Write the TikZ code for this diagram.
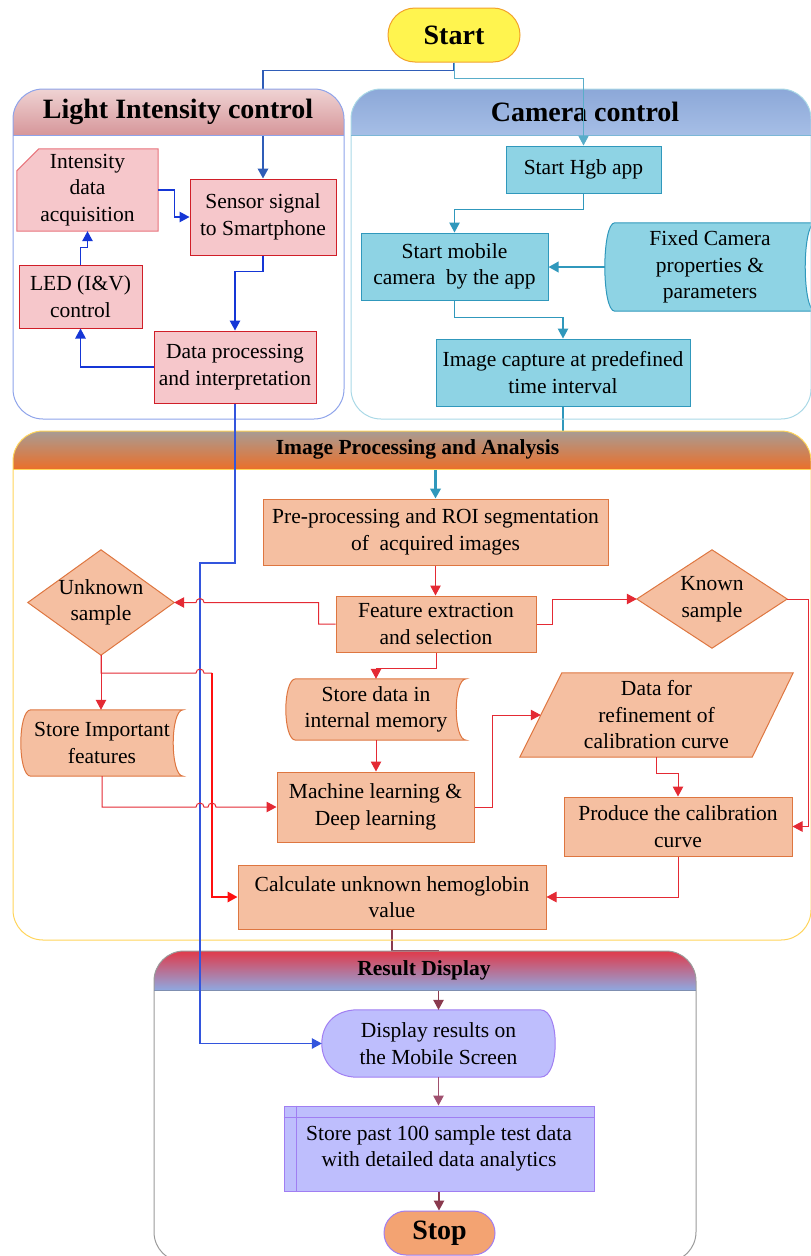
\documentclass[tikz,border=0pt]{standalone}
\usepackage{fontspec}
\setmainfont{Liberation Serif}
\usetikzlibrary{arrows.meta,backgrounds,calc}
\definecolor{pinkfill}{HTML}{F6C7CB}
\definecolor{pinkline}{HTML}{E8737C}
\definecolor{redline}{HTML}{D01E28}
\definecolor{tealfill}{HTML}{8ED3E4}
\definecolor{tealline}{HTML}{3098BC}
\definecolor{orfill}{HTML}{F5BFA1}
\definecolor{orline}{HTML}{DE7640}
\definecolor{lavfill}{HTML}{BEBEFD}
\definecolor{lavline}{HTML}{A07EF2}
\definecolor{stopfill}{HTML}{F3A372}
\definecolor{startfill}{HTML}{FFF44F}
\definecolor{startline}{HTML}{F2A22A}
\definecolor{bluearrow}{HTML}{1536D6}
\definecolor{darkblue}{HTML}{2F5DB8}
\definecolor{midblue}{HTML}{3355DD}
\definecolor{arrred}{HTML}{E42A34}
\definecolor{brightred}{HTML}{FF1010}
\definecolor{maroon}{HTML}{8A3A4E}
\definecolor{rose}{HTML}{A0506E}
\definecolor{lightborder}{HTML}{8EA3EA}
\definecolor{camborder}{HTML}{A9D8E6}
\definecolor{camline}{HTML}{7BB7D6}
\definecolor{ipborder}{HTML}{FFD45A}
\definecolor{rdborder}{HTML}{9A9A9A}
\definecolor{rdline}{HTML}{7F8FB0}
\definecolor{lhtop}{HTML}{EFD3D3}
\definecolor{lhbot}{HTML}{D6969A}
\definecolor{chtop}{HTML}{8CA8D8}
\definecolor{chbot}{HTML}{A6BEE6}
\definecolor{iptop}{HTML}{A89C94}
\definecolor{ipbot}{HTML}{EA6F2A}
\definecolor{rdtop}{HTML}{E03A4A}
\definecolor{rdbot}{HTML}{8FA8E0}
\begin{document}
\begin{tikzpicture}[x=1pt,y=-1pt,
  txt/.style={font=\fontsize{21.5}{26.5}\selectfont, align=center, inner sep=0pt, text=black},
  pbox/.style={txt, draw, fill=pinkfill, line width=1pt},
  tbox/.style={txt, draw=tealline, fill=tealfill, line width=1pt},
  obox/.style={txt, draw=orline, fill=orfill, line width=1pt},
  bgshape/.style={line width=1pt},
  arrowtip/.style={-{Triangle[length=10pt,width=10.5pt]}},
  bl/.style={draw=bluearrow, line width=1.2pt, arrowtip},
  tl/.style={draw=tealline, line width=1.2pt, arrowtip},
  rl/.style={draw=arrred, line width=1pt, arrowtip},
  mrl/.style={draw=maroon, line width=1.2pt, arrowtip},
  hfont/.style={font=\fontsize{28}{30}\selectfont\bfseries, inner sep=0pt},
  sfont/.style={font=\fontsize{21.5}{24}\selectfont\bfseries, inner sep=0pt}
]
\useasboundingbox (0,0) rectangle (811,1256);

% ---------- nodes ----------
\node[txt, draw=startline, fill=startfill, line width=1pt, rounded corners=27pt,
      minimum width=132pt, minimum height=54pt, font=\fontsize{28}{30}\selectfont\bfseries] (start) at (454,35) {Start};

\node[txt, minimum width=141pt, minimum height=82pt] (ida) at (87.5,190) {Intensity\\data\\acquisition};
\node[pbox, draw=redline, minimum width=146pt, minimum height=76pt] (sensor) at (263,217) {Sensor signal\\to Smartphone};
\node[pbox, draw=redline, minimum width=123pt, minimum height=63pt] (led) at (80.5,296.5) {LED (I\&V)\\control};
\node[pbox, draw=redline, minimum width=162pt, minimum height=72pt] (dproc) at (235,367) {Data processing\\and interpretation};

\node[tbox, minimum width=155pt, minimum height=47pt] (hgb) at (583.5,169.5) {Start Hgb app};
\node[tbox, minimum width=187pt, minimum height=67pt] (mobcam) at (454.5,266.5) {Start mobile\\camera~ by the app};
\node[txt, minimum width=210pt, minimum height=88pt] (fixcam) at (710,267) {Fixed Camera\\properties \&\\parameters};
\node[tbox, minimum width=254pt, minimum height=67pt] (imgcap) at (563,372.5) {Image capture at predefined\\time interval};

\node[obox, minimum width=345pt, minimum height=66pt] (preproc) at (435.5,532) {Pre-processing and ROI segmentation\\of~ acquired images};
\node[obox, minimum width=200pt, minimum height=56pt] (feat) at (436,624) {Feature extraction\\and selection};
\node[txt, minimum width=146pt, minimum height=105pt] (unk) at (101,602.5) {Unknown\\sample};
\node[txt, minimum width=150pt, minimum height=98pt] (known) at (712,599) {Known\\sample};
\node[txt, minimum width=162pt, minimum height=66pt] (stimp) at (102,743) {Store Important\\features};
\node[txt, minimum width=180pt, minimum height=61pt] (stdata) at (376,709.5) {Store data in\\internal memory};
\node[obox, minimum width=197pt, minimum height=70pt] (mlearn) at (375.5,807) {Machine learning \&\\Deep learning};
\node[txt, minimum width=273pt, minimum height=84pt] (dref) at (656.5,715) {Data for\\refinement of\\calibration curve};
\node[obox, minimum width=228pt, minimum height=59pt] (prod) at (678,826.5) {Produce the calibration\\curve};
\node[obox, minimum width=308pt, minimum height=64pt] (calc) at (392,897) {Calculate unknown hemoglobin\\value};

\node[txt, minimum width=233pt, minimum height=67pt] (disp) at (438.5,1043.5) {Display results on\\the Mobile Screen};
\node[txt, draw=lavline, fill=lavfill, line width=1pt, minimum width=310pt, minimum height=85pt] (stpast) at (439,1148.5) {Store past 100 sample test data\\with detailed data analytics};
\node[txt, draw=lavline, fill=stopfill, line width=1pt, rounded corners=22pt,
      minimum width=111pt, minimum height=44pt, font=\fontsize{28}{30}\selectfont\bfseries] (stop) at (439.5,1233) {Stop};

% ---------- custom shapes behind texts ----------
\begin{scope}[on background layer]
  \draw[bgshape, draw=pinkline, fill=pinkfill] ([xshift=22pt]ida.north west) -- (ida.north east) -- (ida.south east)
        -- (ida.south west) -- ([yshift=-22pt]ida.north west) -- cycle;
  \foreach \n/\fc/\dc in {fixcam/tealfill/tealline, stimp/orfill/orline, stdata/orfill/orline}{
    \draw[bgshape, draw=\dc, fill=\fc] ([xshift=10pt]\n.north west) -- (\n.north east)
      .. controls ([xshift=-13.3pt]\n.north east) and ([xshift=-13.3pt]\n.south east) .. (\n.south east)
      -- ([xshift=10pt]\n.south west)
      .. controls ([xshift=-3.3pt]\n.south west) and ([xshift=-3.3pt]\n.north west) .. ([xshift=10pt]\n.north west) -- cycle;
  }
  \foreach \n in {unk, known}{
    \draw[bgshape, draw=orline, fill=orfill] (\n.north) -- (\n.east) -- (\n.south) -- (\n.west) -- cycle;
  }
  \draw[bgshape, draw=orline, fill=orfill] ([xshift=42pt]dref.north west) -- (dref.north east)
        -- ([xshift=-41pt]dref.south east) -- (dref.south west) -- cycle;
  \draw[bgshape, draw=lavline, fill=lavfill] ([xshift=36pt]disp.north west) -- ([xshift=-15pt]disp.north east)
        .. controls ([xshift=-4pt]disp.north east) and ([yshift=16pt]disp.east) .. (disp.east)
        .. controls ([yshift=-16pt]disp.east) and ([xshift=-4pt]disp.south east) .. ([xshift=-15pt]disp.south east)
        -- ([xshift=36pt]disp.south west)
        .. controls ([xshift=12pt]disp.south west) and ([yshift=-18pt]disp.west) .. (disp.west)
        .. controls ([yshift=18pt]disp.west) and ([xshift=12pt]disp.north west) .. ([xshift=36pt]disp.north west) -- cycle;
\end{scope}
\draw[lavline, line width=1pt] ([yshift=-12pt]stpast.north west) -- ([yshift=-12pt]stpast.north east);
\draw[lavline, line width=1pt] ([xshift=13pt]stpast.north west) -- ([xshift=13pt]stpast.south west);

% ---------- connectors passing behind headers ----------
\draw[draw=darkblue, line width=1.8pt, arrowtip] (start.south) -- ++(0,8) -| (sensor.north);
\draw[draw=tealline, line width=2.6pt, arrowtip] (imgcap.south) -- ++(0,44) -| (preproc.north);
\draw[mrl] (calc.south) -- ++(0,21) -| (disp.north);

% ---------- containers ----------
\begin{scope}
  \clip[rounded corners=30pt] (13,89) rectangle (344,419);
  \shade[top color=lhtop, bottom color=lhbot] (13,89) rectangle (344,135);
\end{scope}
\draw[lightborder, line width=1pt, rounded corners=30pt] (13,89) rectangle (344,419);
\draw[lightborder, line width=1pt] (13,135) -- (344,135);
\node[hfont] (tlight) at (178,112) {Light Intensity control};
\begin{scope}
  \clip[rounded corners=30pt] (351,89) rectangle (811,419);
  \shade[top color=chtop, bottom color=chbot] (351,89) rectangle (811,135);
\end{scope}
\draw[camborder, line width=1pt, rounded corners=30pt] (351,89) rectangle (811,419);
\draw[camline, line width=1pt] (351,135) -- (811,135);
\node[hfont] (tcam) at (585,112) {Camera control};
\begin{scope}
  \clip[rounded corners=30pt] (13,431) rectangle (811,940);
  \shade[top color=iptop, bottom color=ipbot] (13,431) rectangle (811,469);
\end{scope}
\draw[ipborder, line width=1pt, rounded corners=30pt] (13,431) rectangle (811,940);
\draw[ipborder, line width=1pt] (13,469) -- (811,469);
\node[sfont] (tipa) at (417.5,449) {Image Processing and Analysis};
\begin{scope}
  \clip[rounded corners=30pt] (154,951) rectangle (696,1262);
  \shade[top color=rdtop, bottom color=rdbot] (154,951) rectangle (696,990);
\end{scope}
\draw[rdborder, line width=1pt, rounded corners=30pt] (154,951) rectangle (696,1262);
\draw[rdline, line width=1pt] (154,990) -- (696,990);
\node[sfont] (trd) at (424,970) {Result Display};

% ---------- other connectors ----------
\draw[draw=tealline!80!white, line width=1pt, arrowtip] (start.south) -- ++(0,16) -| (hgb.north);
\draw[bl] (ida.east) -- ++(16,0) |- (sensor.west);
\draw[bl] (led.north) -- ++(0,-17) -| (ida.south);
\draw[bl] (sensor.south) -- ++(0,16) -| (dproc.north);
\draw[bl] (dproc.west) -| (led.south);
\coordinate (bx) at (200,563);
\coordinate (rv) at (212,673);
\draw[draw=midblue, line width=1.2pt, arrowtip] (dproc.south) |- (bx) |- (disp.west);
\draw[tl] (hgb.south) -- ++(0,16) -| (mobcam.north);
\draw[draw=tealline, line width=2pt, arrowtip] (fixcam.west) -- (mobcam.east |- fixcam.west);
\draw[tl] (mobcam.south) -- ++(0,17) -| (imgcap.north);
\draw[rl] (preproc.south) -- (preproc.south |- feat.north);
\draw[rl] (feat.west) -- ++(-17,0) |- ([xshift=4pt]bx |- unk.east) arc[start angle=0,end angle=180,radius=4pt] -- (unk.east);
\draw[rl] (feat.east) -- ++(16,0) |- (known.west);
\draw[rl] (feat.south) -- ++(0,16) -| (stdata.north);
\draw[rl] (stdata.south) -- (stdata.south |- mlearn.north);
\draw[rl] (mlearn.east) -- ++(18,0) |- ([xshift=21pt]dref.west);
\draw[rl] (dref.south) -- ++(0,16) -| (prod.north);
\draw[rl] (known.east) -- ++(21,0) |- (prod.east);
\draw[rl] (prod.south) |- (calc.east);
\draw[rl] (unk.south) -- (unk.south |- stimp.north);
\draw[draw=arrred, line width=1pt] (unk.south) |- ([xshift=-4pt]bx |- rv) arc[start angle=180,end angle=0,radius=4pt] -- (rv);
\draw[draw=brightred, line width=1.8pt, arrowtip] (rv) |- (calc.west);
\draw[rl] (stimp.south) |- ([xshift=-4pt]bx |- mlearn.west) arc[start angle=180,end angle=0,radius=4pt]
      -- ([xshift=-4pt]rv |- mlearn.west) arc[start angle=180,end angle=0,radius=4pt] -- (mlearn.west);
\draw[draw=rose, line width=1.2pt, arrowtip] (disp.south) -- (disp.south |- stpast.north);
\draw[mrl] (stpast.south) -- (stpast.south |- stop.north);
\end{tikzpicture}
\end{document}
